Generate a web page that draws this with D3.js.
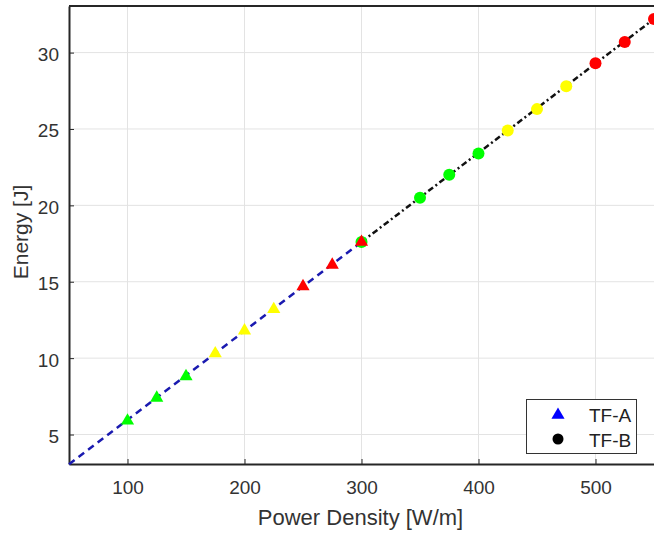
<!DOCTYPE html>
<html><head><meta charset="utf-8">
<script src="https://cdn.jsdelivr.net/npm/d3@7"></script>
<style>body{margin:0;background:#fff;}svg{display:block;font-family:"Liberation Sans",Arial,Helvetica,sans-serif;}</style>
</head><body><svg id="c" width="654" height="536"></svg>
<script>
// Data
const powerA = [100,125,150,175,200,225,250,275,300];
const energyA = [5.9,7.4,8.8,10.3,11.8,13.2,14.7,16.1,17.6];
const colorA = ["#00ff00","#00ff00","#00ff00","#ffff00","#ffff00","#ffff00","#ff0000","#ff0000","#ff0000"];
const powerB = [300,350,375,400,425,450,475,500,525,550];
const energyB = [17.6,20.5,22.0,23.4,24.9,26.3,27.8,29.3,30.7,32.2];
const colorB = ["#00ff00","#00ff00","#00ff00","#00ff00","#ffff00","#ffff00","#ffff00","#ff0000","#ff0000","#ff0000"];
const lineA_x = [50,300], lineA_y = [3.05,17.6];
const lineB_x = [300,550], lineB_y = [17.6,32.2];
const xTicks = [100,200,300,400,500];
const yTicks = [5,10,15,20,25,30];
const legendLabels = ["TF-A","TF-B"];

const svg = d3.select("#c");
const L=69, R=654, T=6, B=464;
const x = d3.scaleLinear().domain([50,550]).range([L,R]);
const y = d3.scaleLinear().domain([3.07,33.05]).range([B,T]);

// grid
svg.append("g").selectAll("line").data(xTicks).join("line")
  .attr("x1",d=>x(d)).attr("x2",d=>x(d)).attr("y1",T).attr("y2",B)
  .attr("stroke","#e3e3e3").attr("stroke-width",1);
svg.append("g").selectAll("line").data(yTicks).join("line")
  .attr("x1",L).attr("x2",R).attr("y1",d=>y(d)).attr("y2",d=>y(d))
  .attr("stroke","#e3e3e3").attr("stroke-width",1);

// axes
const xAxis = d3.axisBottom(x).tickValues(xTicks).tickSizeInner(-5).tickSizeOuter(0).tickPadding(17);
const gx = svg.append("g").attr("transform",`translate(0,${B})`).call(xAxis);
const yAxis = d3.axisLeft(y).tickValues(yTicks).tickSizeInner(-5).tickSizeOuter(0).tickPadding(10);
const gy = svg.append("g").attr("transform",`translate(${L},0)`).call(yAxis);
[gx,gy].forEach(g=>{
  g.select(".domain").attr("stroke","#262626").attr("stroke-width",2);
  g.selectAll(".tick line").attr("stroke","#262626").attr("stroke-width",1);
  g.selectAll(".tick text").attr("fill","#333").style("font-size","19px").style("font-family","Liberation Sans, Arial, sans-serif");
});
gx.selectAll(".tick text").attr("dy","0.71em");
gy.selectAll(".tick text").attr("dy","0.42em");
// top border
svg.append("line").attr("x1",L).attr("x2",R).attr("y1",T).attr("y2",T).attr("stroke","#262626").attr("stroke-width",2);

// lines
const line = d3.line().x(d=>x(d[0])).y(d=>y(d[1]));
svg.append("path").datum(lineA_x.map((v,i)=>[v,lineA_y[i]]))
  .attr("d",line).attr("fill","none").attr("stroke","#1a1ab0").attr("stroke-width",2.5).attr("stroke-dasharray","7,5");
svg.append("path").datum(lineB_x.map((v,i)=>[v,lineB_y[i]]))
  .attr("d",line).attr("fill","none").attr("stroke","#111").attr("stroke-width",2.5).attr("stroke-dasharray","6,3,2,3");

// markers B (circles)
svg.append("g").selectAll("circle").data(powerB).join("circle")
  .attr("cx",d=>x(d)).attr("cy",(d,i)=>y(energyB[i])).attr("r",6).attr("fill",(d,i)=>colorB[i]);
// markers A (triangles)
const tri = d3.symbol().type(d3.symbolTriangle).size(75);
svg.append("g").selectAll("path").data(powerA).join("path")
  .attr("d",tri).attr("transform",(d,i)=>`translate(${x(d)},${y(energyA[i])})`).attr("fill",(d,i)=>colorA[i]);

// axis labels
svg.append("text").attr("x",(L+R)/2-1).attr("y",525).attr("text-anchor","middle")
  .attr("fill","#333").style("font-size","22px").text("Power Density [W/m]");
svg.append("text").attr("transform",`translate(28,232) rotate(-90)`).attr("text-anchor","middle")
  .attr("fill","#333").style("font-size","21px").text("Energy [J]");

// legend
const lg = svg.append("g");
lg.append("rect").attr("x",526.5).attr("y",399.5).attr("width",110).attr("height",54).attr("fill","#fff").attr("stroke","#333").attr("stroke-width",1);
lg.append("path").attr("d",tri).attr("transform","translate(558,415)").attr("fill","#0000ff");
lg.append("circle").attr("cx",558).attr("cy",439).attr("r",5.5).attr("fill","#000");
lg.selectAll("text").data(legendLabels).join("text")
  .attr("x",589).attr("y",(d,i)=>422+i*25).attr("fill","#222").style("font-size","19px").text(d=>d);
</script></body></html>
